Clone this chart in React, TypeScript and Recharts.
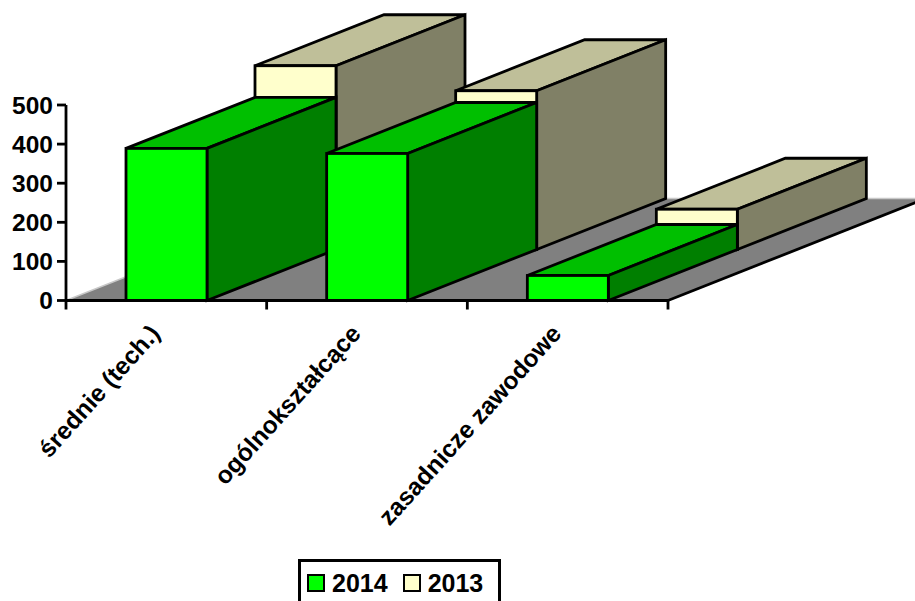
import { Bar, BarChart, Customized, Legend, XAxis, YAxis } from 'recharts';

const CATEGORIES = ['średnie (tech.)', 'ogólnokształcące', 'zasadnicze zawodowe'];
const VALUES_2014 = [389, 376, 64];
const VALUES_2013 = [470, 406, 103];
const Y_TICKS = [0, 100, 200, 300, 400, 500];

const DATA = CATEGORIES.map((name, i) => ({ name, y2014: VALUES_2014[i], y2013: VALUES_2013[i] }));

const WIDTH = 915;
const HEIGHT = 601;
const LEFT = 66;
const RIGHT = 247;
const BOTTOM = 300.5;
const MARGIN = { top: 105, right: RIGHT, bottom: BOTTOM - 1, left: 0 };
const BAND = (WIDTH - LEFT - RIGHT) / CATEGORIES.length;
const BAR_W = 81;
const DX = 129;
const DY = 51;
const FONT = '"Liberation Sans", Arial, sans-serif';
const LINE = 2.8;
const FONT_SIZE = 24.5;

const face = { stroke: '#000', strokeWidth: LINE, strokeLinejoin: 'miter' as const };

function box3d(front: string, top: string, side: string, ox: number, oy: number) {
    return (props: any) => {
        const x = props.x + ox;
        const y = props.y - oy;
        const w = props.width;
        const h = props.height;
        if (!h) return <g />;
        return (
            <g>
                <polygon
                    points={`${x},${y} ${x + DX},${y - DY} ${x + w + DX},${y - DY} ${x + w},${y}`}
                    fill={top}
                    {...face}
                />
                <polygon
                    points={`${x + w},${y} ${x + w + DX},${y - DY} ${x + w + DX},${y + h - DY} ${x + w},${y + h}`}
                    fill={side}
                    {...face}
                />
                <rect x={x} y={y} width={w} height={h} fill={front} {...face} />
            </g>
        );
    };
}

function Floor() {
    const x0 = LEFT;
    const x1 = WIDTH - RIGHT;
    const y0 = HEIGHT - BOTTOM;
    const bx = DX * 2;
    const by = y0 - DY * 2;
    return (
        <g>
            <polygon points={`${x0},${y0} ${x0 + bx},${by} ${x1 + bx},${by} ${x1},${y0}`} fill="#808080" />
            <polyline points={`${x0},${y0} ${x0 + bx},${by} ${x1 + bx},${by}`} fill="none" stroke="#c8c8c8" strokeWidth={1.5} />
            <line x1={x1} y1={y0} x2={x1 + bx} y2={by} stroke="#000" strokeWidth={LINE} />
        </g>
    );
}

function CategoryTick(props: any) {
    const { x, y, index, payload } = props;
    const left = x - BAND / 2;
    const last = index === CATEGORIES.length - 1;
    return (
        <g>
            <line x1={left} y1={y} x2={left} y2={y + 9} stroke="#000" strokeWidth={LINE} />
            {last && <line x1={left + BAND} y1={y} x2={left + BAND} y2={y + 9} stroke="#000" strokeWidth={LINE} />}
            <text
                x={x - 5}
                y={y + 34}
                transform={`rotate(-48 ${x - 5} ${y + 34})`}
                textAnchor="end"
                fontFamily={FONT}
                fontWeight="bold"
                fontSize={FONT_SIZE}
                fill="#000"
            >
                {payload.value}
            </text>
        </g>
    );
}

function LegendBox() {
    const entries = [
        { label: '2014', color: '#00ff00' },
        { label: '2013', color: '#ffffcc' },
    ];
    return (
        <div
            style={{
                boxSizing: 'border-box',
                width: 203,
                height: 60,
                border: '3px solid #000',
                background: '#fff',
                display: 'flex',
                paddingLeft: 6,
                paddingTop: 9,
                fontFamily: FONT,
                fontWeight: 'bold',
                fontSize: 25,
                lineHeight: '24px',
                color: '#000',
            }}
        >
            {entries.map((e) => (
                <div key={e.label} style={{ display: 'flex', alignItems: 'flex-start', marginRight: 15 }}>
                    <span
                        style={{
                            boxSizing: 'border-box',
                            width: 18,
                            height: 18,
                            marginTop: 3,
                            marginRight: 7,
                            border: '2.5px solid #000',
                            background: e.color,
                        }}
                    />
                    <span>{e.label}</span>
                </div>
            ))}
        </div>
    );
}

export default function App() {
    return (
        <div style={{ position: 'absolute', left: 0, top: 0, width: WIDTH, height: HEIGHT, overflow: 'hidden', background: '#fff' }}>
            <BarChart width={WIDTH} height={HEIGHT} data={DATA} margin={MARGIN} barSize={BAR_W} barGap={-BAR_W}>
                <Customized component={Floor} />
                <XAxis
                    dataKey="name"
                    height={1}
                    interval={0}
                    tickLine={false}
                    tickSize={0}
                    tickMargin={0}
                    axisLine={{ stroke: '#000', strokeWidth: LINE }}
                    tick={CategoryTick}
                />
                <YAxis
                    width={LEFT}
                    domain={[0, 500]}
                    ticks={Y_TICKS}
                    interval={0}
                    tickSize={9}
                    tickMargin={4}
                    axisLine={{ stroke: '#000', strokeWidth: LINE }}
                    tickLine={{ stroke: '#000', strokeWidth: LINE }}
                    tick={{ fill: '#000', fontSize: FONT_SIZE, fontWeight: 'bold', fontFamily: FONT }}
                />
                <Bar dataKey="y2013" isAnimationActive={false} shape={box3d('#ffffcc', '#bfbf99', '#808066', DX, DY)} />
                <Bar dataKey="y2014" isAnimationActive={false} shape={box3d('#00ff00', '#00bf00', '#007f00', 0, 0)} />
                <Legend
                    verticalAlign="middle"
                    align="center"
                    content={LegendBox}
                    wrapperStyle={{ position: 'absolute', left: 298, top: 559, width: 203, height: 60 }}
                />
            </BarChart>
        </div>
    );
}
